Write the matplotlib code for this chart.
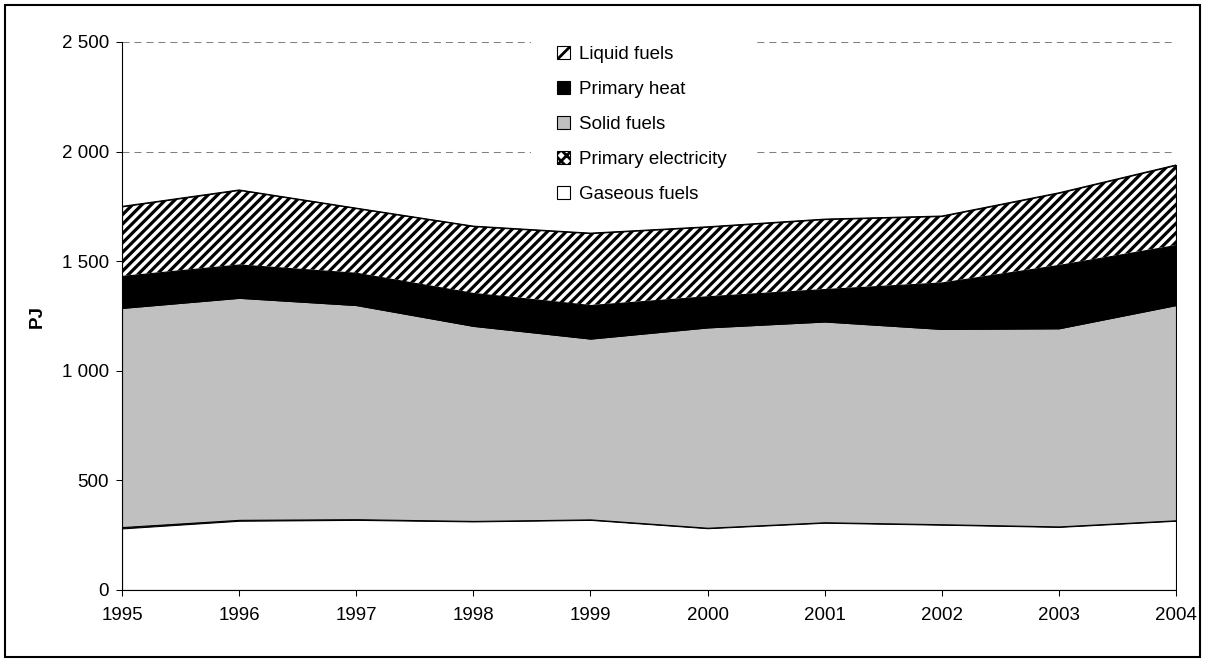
import matplotlib
matplotlib.use("Agg")
import matplotlib.pyplot as plt
from matplotlib.patches import Patch, Rectangle
from matplotlib.collections import LineCollection
from matplotlib.transforms import IdentityTransform
import numpy as np

# Primary energy supply by fuel, PJ
years = [1995, 1996, 1997, 1998, 1999, 2000, 2001, 2002, 2003, 2004]
gaseous_fuels = [281, 316, 320, 313, 320, 282, 307, 298, 288, 316]
primary_electricity = [6, 4, 3, 2, 2, 2, 2, 2, 2, 2]
solid_fuels = [1000, 1013, 977, 890, 825, 914, 916, 891, 904, 982]
primary_heat = [146, 152, 147, 150, 153, 142, 148, 212, 289, 274]
liquid_fuels = [317, 340, 295, 305, 328, 317, 319, 303, 329, 365]

series_names = ["Gaseous fuels", "Primary electricity", "Solid fuels",
                "Primary heat", "Liquid fuels"]
y_ticks = [0, 500, 1000, 1500, 2000, 2500]
y_tick_labels = ["0", "500", "1 000", "1 500", "2 000", "2 500"]
y_label = "PJ"

plt.rcParams["font.family"] = ["Liberation Sans", "DejaVu Sans"]
plt.rcParams["hatch.linewidth"] = 2.0

W, H, DPI = 1206, 662, 100
FS = 13.5
fig = plt.figure(figsize=(W / DPI, H / DPI), dpi=DPI)
fig.patch.set_facecolor("white")
ax = fig.add_axes([122 / W, 1 - 590 / H, (1176 - 122) / W, (590 - 42) / H])

styles = [
    dict(facecolor="white"),
    dict(facecolor="white", hatch="xxx"),
    dict(facecolor="#c0c0c0"),
    dict(facecolor="black"),
    dict(facecolor="white"),
]
layers = [gaseous_fuels, primary_electricity, solid_fuels, primary_heat, liquid_fuels]

x = np.array(years, dtype=float)
base = np.zeros(len(years))
fills = []
for vals, st in zip(layers, styles):
    top = base + np.array(vals, dtype=float)
    coll = ax.fill_between(x, base, top, edgecolor="black", linewidth=0.8,
                           zorder=2, **st)
    fills.append(coll)
    base = top
total = base

ax.set_xlim(years[0], years[-1])
ax.set_ylim(y_ticks[0], y_ticks[-1])

# diagonal stripe pattern for liquid fuels, clipped to its area
bb = ax.bbox
period = 9.4
c_vals = np.arange(bb.y0 - bb.x1 - period, bb.y1 - bb.x0 + period, period)
segs = [[(bb.x0 - 5, bb.x0 - 5 + c), (bb.x1 + 5, bb.x1 + 5 + c)] for c in c_vals]
stripes = LineCollection(segs, colors="black", linewidths=2.3,
                         transform=IdentityTransform(), zorder=2.1)
ax.add_collection(stripes, autolim=False)
stripes.set_clip_path(fills[-1].get_paths()[0], ax.transData)
ax.plot(x, total, color="black", linewidth=0.8, zorder=2.2)
ax.plot([x[-1], x[-1]], [total[-1] - liquid_fuels[-1], total[-1]],
        color="black", linewidth=0.8, zorder=2.2)

# axes styling
ax.set_xticks(years)
ax.set_xticklabels([str(y) for y in years])
ax.set_yticks(y_ticks)
ax.set_yticklabels(y_tick_labels)
ax.tick_params(axis="both", direction="out", length=4.5, width=0.75,
               labelsize=FS, colors="black")
ax.tick_params(axis="x", pad=8)
ax.tick_params(axis="y", pad=5)
for side in ("top", "right"):
    ax.spines[side].set_visible(False)
for side in ("left", "bottom"):
    ax.spines[side].set_linewidth(0.8)
    ax.spines[side].set_color("black")
    ax.spines[side].set_zorder(3)

ax.set_axisbelow(True)
ax.yaxis.grid(True, color="#808080", linestyle=(0, (6.7, 4.8)), linewidth=0.75)
ax.xaxis.grid(False)

ax.set_ylabel(y_label, fontsize=FS, fontweight="bold")
ax.yaxis.set_label_coords(-0.072, 0.5)

# legend, top series first
handles = [
    Patch(facecolor="white", edgecolor="black", hatch="//", linewidth=0.8),
    Patch(facecolor="black", edgecolor="black", linewidth=0.8),
    Patch(facecolor="#c0c0c0", edgecolor="black", linewidth=0.8),
    Patch(facecolor="white", edgecolor="black", hatch="xxx", linewidth=0.8),
    Patch(facecolor="white", edgecolor="black", linewidth=0.8),
]
labels = series_names[::-1]
leg = ax.legend(handles, labels, loc="upper left",
                bbox_to_anchor=(531 / W, 1 - 20 / H),
                bbox_transform=fig.transFigure, fontsize=FS,
                frameon=True, fancybox=False, facecolor="white",
                edgecolor="none", framealpha=1.0, borderpad=1.4,
                borderaxespad=0, handlelength=0.7, handleheight=0.7,
                handletextpad=0.45, labelspacing=0.95)
leg.set_zorder(1)

# outer frame around the chart
fig.patches.append(Rectangle((5 / W, (H - 657) / H), (1200 - 5) / W, (657 - 5) / H,
                             transform=fig.transFigure, fill=False,
                             edgecolor="black", linewidth=1.5))

fig.savefig("out.png", dpi=DPI, facecolor="white")
